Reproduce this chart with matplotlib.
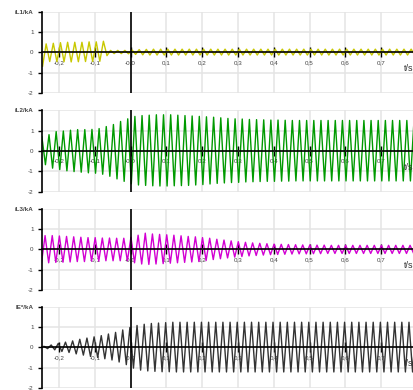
import numpy as np
import matplotlib.pyplot as plt

plt.rcParams['font.family'] = ['Liberation Sans', 'DejaVu Sans']

# 50 Hz signals: one extreme value (peak or trough) every 10 ms
half_period = 0.01

il1_start = -0.246
il1 = [
    -0.68, 0.42, -0.45, 0.45, -0.46, 0.48, -0.46, 0.50, -0.47, 0.50,
    -0.46, 0.50, -0.45, 0.52, -0.45, 0.52, -0.44, 0.55, -0.16, 0.10,
    -0.06, 0.10, -0.06, 0.10, -0.07, 0.12, -0.10, 0.14, -0.12, 0.15,
    -0.13, 0.16, -0.13, 0.16, -0.13, 0.16, -0.13, 0.16, -0.13, 0.16,
    -0.13, 0.16, -0.13, 0.16, -0.13, 0.16, -0.13, 0.16, -0.13, 0.16,
    -0.13, 0.16, -0.13, 0.16, -0.13, 0.16, -0.13, 0.16, -0.13, 0.16,
    -0.13, 0.16, -0.13, 0.16, -0.13, 0.16, -0.13, 0.16, -0.13, 0.16,
    -0.13, 0.16, -0.13, 0.16, -0.13, 0.16, -0.13, 0.16, -0.13, 0.16,
    -0.13, 0.16, -0.13, 0.16, -0.13, 0.16, -0.13, 0.16, -0.13, 0.16,
    -0.13, 0.16, -0.13, 0.16, -0.13, 0.16, -0.13, 0.16, -0.13, 0.16,
    -0.13, 0.16, -0.13, 0.16, -0.13,
]

il2_start = -0.248
il2 = [
    0.70, -0.68, 0.80, -0.85, 0.95, -0.92, 0.98, -0.98, 1.02, -1.02,
    1.05, -1.05, 1.05, -1.08, 1.06, -1.10, 1.10, -1.15, 1.20, -1.25,
    1.30, -1.38, 1.45, -1.50, 1.58, -1.62, 1.70, -1.68, 1.74, -1.70,
    1.76, -1.72, 1.78, -1.73, 1.78, -1.73, 1.78, -1.72, 1.76, -1.71,
    1.74, -1.70, 1.72, -1.68, 1.70, -1.66, 1.68, -1.63, 1.66, -1.60,
    1.63, -1.58, 1.60, -1.56, 1.58, -1.55, 1.57, -1.53, 1.55, -1.52,
    1.54, -1.51, 1.53, -1.50, 1.52, -1.50, 1.52, -1.49, 1.51, -1.49,
    1.50, -1.48, 1.50, -1.48, 1.50, -1.48, 1.50, -1.48, 1.50, -1.48,
    1.50, -1.48, 1.50, -1.48, 1.50, -1.48, 1.50, -1.48, 1.50, -1.48,
    1.50, -1.48, 1.50, -1.48, 1.50, -1.48, 1.50, -1.48, 1.50, -1.48,
    1.50, -1.48, 1.50, -1.48, 1.50,
]

il3_start = -0.249
il3 = [
    -0.66, 0.68, -0.66, 0.68, -0.64, 0.66, -0.63, 0.64, -0.62, 0.62,
    -0.60, 0.60, -0.60, 0.58, -0.58, 0.58, -0.58, 0.56, -0.56, 0.56,
    -0.56, 0.55, -0.56, 0.55, -0.56, 0.60, -0.66, 0.70, -0.72, 0.80,
    -0.74, 0.76, -0.72, 0.74, -0.70, 0.72, -0.68, 0.70, -0.66, 0.67,
    -0.64, 0.64, -0.62, 0.62, -0.60, 0.58, -0.55, 0.55, -0.50, 0.50,
    -0.46, 0.46, -0.42, 0.42, -0.38, 0.38, -0.35, 0.35, -0.32, 0.32,
    -0.30, 0.30, -0.28, 0.28, -0.26, 0.26, -0.25, 0.25, -0.24, 0.24,
    -0.23, 0.23, -0.22, 0.22, -0.22, 0.22, -0.21, 0.21, -0.21, 0.21,
    -0.20, 0.20, -0.20, 0.20, -0.20, 0.20, -0.20, 0.20, -0.20, 0.20,
    -0.20, 0.20, -0.20, 0.20, -0.20, 0.20, -0.20, 0.20, -0.20, 0.20,
    -0.20, 0.20, -0.20, 0.20, -0.20,
]

ie_start = -0.242
ie = [
    0.05, -0.06, 0.12, -0.12, 0.20, -0.20, 0.26, -0.25, 0.32, -0.32,
    0.40, -0.38, 0.46, -0.45, 0.52, -0.50, 0.58, -0.56, 0.66, -0.62,
    0.74, -0.72, 0.86, -0.85, 0.98, -1.02, 1.08, -1.12, 1.14, -1.16,
    1.18, -1.18, 1.20, -1.20, 1.22, -1.20, 1.24, -1.21, 1.24, -1.21,
    1.24, -1.21, 1.24, -1.21, 1.24, -1.21, 1.24, -1.21, 1.24, -1.21,
    1.24, -1.21, 1.24, -1.21, 1.24, -1.21, 1.24, -1.21, 1.24, -1.21,
    1.24, -1.21, 1.24, -1.21, 1.24, -1.21, 1.24, -1.21, 1.24, -1.21,
    1.24, -1.21, 1.24, -1.21, 1.24, -1.21, 1.24, -1.21, 1.24, -1.21,
    1.24, -1.21, 1.24, -1.21, 1.24, -1.21, 1.24, -1.21, 1.24, -1.21,
    1.24, -1.21, 1.24, -1.21, 1.24, -1.21, 1.24, -1.21, 1.24, -1.21,
    1.24, -1.21, 1.24, -1.21, 1.24,
]

names = ['iL1/kA', 'iL2/kA', 'iL3/kA', 'IE*/kA']
starts = [il1_start, il2_start, il3_start, ie_start]
series = [il1, il2, il3, ie]
colors = ['#c8c800', '#009a00', '#d200d2', '#333333']

xticks = [-0.2, -0.1, 0.0, 0.1, 0.2, 0.3, 0.4, 0.5, 0.6, 0.7]
xticklabels = ['-0,2', '-0,1', '-0,0', '0,1', '0,2', '0,3', '0,4', '0,5', '0,6', '0,7']
yticks = [-2, -1, 0, 1, 2]
yticklabels = ['-2', '-1', '0', '1']

fig = plt.figure(figsize=(4.14, 3.9), dpi=100)
W, H = 414, 390
bottoms = [93, 191.5, 290, 388]

for i in range(4):
    ax = fig.add_axes([42 / W, 1 - bottoms[i] / H, 372 / W, 81.2 / H])
    t = starts[i] + half_period * np.arange(len(series[i]))
    ax.plot(t, series[i], color=colors[i], lw=1.0, zorder=2)
    ax.set_xlim(-0.2476, 0.792)
    ax.set_ylim(-2, 2)

    ax.set_xticks(xticks)
    ax.set_xticklabels(xticklabels)
    ax.set_yticks(yticks)
    ax.set_yticklabels(yticklabels + [names[i]])
    ax.get_yticklabels()[-1].set_fontsize(6.5)
    ax.get_yticklabels()[-1].set_fontweight('bold')
    ax.get_yticklabels()[-1].set_color('#222222')

    ax.grid(True, color='#e4e4e4', lw=1.1, zorder=0)
    ax.set_axisbelow(True)

    for s in ['top', 'right']:
        ax.spines[s].set_visible(False)
    ax.spines['left'].set_color('black')
    ax.spines['left'].set_linewidth(1.2)
    ax.spines['bottom'].set_position(('data', 0))
    ax.spines['bottom'].set_color('black')
    ax.spines['bottom'].set_linewidth(1.2)
    ax.spines['bottom'].set_zorder(3)
    ax.axvline(0, color='black', lw=1.2, zorder=3)

    ax.tick_params(axis='x', direction='inout', length=7, width=1,
                   labelsize=4.5, pad=2, labelcolor='#444444')
    ax.tick_params(axis='y', direction='out', length=3, width=1,
                   labelsize=4.5, pad=3, labelcolor='#444444')

    ax.text(0.79, -0.8, 't/s', ha='right', va='center', fontsize=6.5,
            color='#333333')

fig.savefig('out.png', dpi=100)
